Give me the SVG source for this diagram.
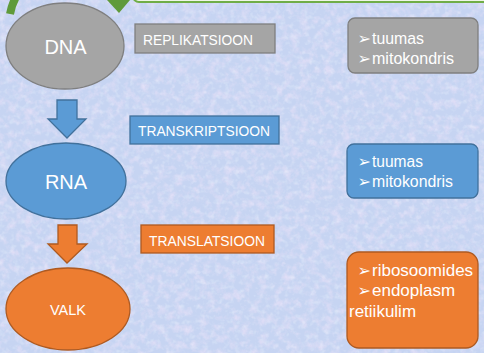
<svg xmlns="http://www.w3.org/2000/svg" width="484" height="353" viewBox="0 0 484 353">
<style>
.w{fill:#ffffff;font-family:"Liberation Sans",Arial,sans-serif}
.gray{fill:#a5a5a5;stroke:#7f7f7f;stroke-width:1.3}
.blue{fill:#5b9bd5;stroke:#41719c;stroke-width:1.3}
.orange{fill:#ed7d31;stroke:#ae5a21;stroke-width:1.3}
.lbl{font-size:14px}
.big{font-size:20px}
.lst{font-size:16px}
.lst2{font-size:17px}
.bul{font-family:"DejaVu Sans",sans-serif;font-size:16px}
</style>
<defs>
<filter id="noise" x="0" y="0" width="100%" height="100%">
<feTurbulence type="fractalNoise" baseFrequency="0.12" numOctaves="3" seed="7"/>
<feColorMatrix type="matrix" values="0 0 0 0 0.88  0 0 0 0 0.78  0 0 0 0 0.95  1.6 0 0 0 -0.7"/>
</filter>
<filter id="noise2" x="0" y="0" width="100%" height="100%">
<feTurbulence type="fractalNoise" baseFrequency="0.2" numOctaves="2" seed="3"/>
<feColorMatrix type="matrix" values="0 0 0 0 0.85  0 0 0 0 0.92  0 0 0 0 0.99  0 1.6 0 0 -0.8"/>
</filter>
</defs>
<rect x="0" y="0" width="484" height="353" fill="#c6d4f2"/>
<rect x="0" y="0" width="484" height="353" filter="url(#noise)" opacity="0.85"/>
<rect x="0" y="0" width="484" height="353" filter="url(#noise2)" opacity="0.6"/>

<g id="top-box">
<rect x="133" y="-20" width="360" height="22" rx="6" fill="#eef6e6" stroke="#70ad47" stroke-width="2"/>
</g>

<g id="connectors">
<path d="M 10 14 C 12 4, 15 -2, 18 -6" fill="none" stroke="#5f9a3a" stroke-width="8"/>
<polygon points="107,0 130,0 119,13" fill="#5f9a3a"/>
<polygon class="blue" points="57,100 77,100 77,119 86,119 67,138 48,119 57,119"/>
<polygon class="orange" points="58,225 77,225 77,244 87,244 67,263 48,244 58,244"/>
</g>

<g id="dna">
<ellipse class="gray" cx="65" cy="46" rx="59" ry="43"/>
<text class="w big" x="65.5" y="54" text-anchor="middle">DNA</text>
</g>
<g id="replikatsioon">
<rect class="gray" x="135" y="24" width="140" height="29"/>
<text class="w lbl" x="143" y="44.5" textLength="110" lengthAdjust="spacingAndGlyphs">REPLIKATSIOON</text>
</g>
<g id="dna-places">
<rect class="gray" x="348" y="18" width="130" height="55" rx="7"/>
<text class="w lst" x="357.5" y="43.5"><tspan class="bul">➢</tspan><tspan x="372" textLength="52" lengthAdjust="spacingAndGlyphs">tuumas</tspan></text>
<text class="w lst" x="357.5" y="63.5"><tspan class="bul">➢</tspan><tspan x="372" textLength="82" lengthAdjust="spacingAndGlyphs">mitokondris</tspan></text>
</g>

<g id="rna">
<ellipse class="blue" cx="66" cy="181" rx="60" ry="38"/>
<text class="w big" x="66" y="189" text-anchor="middle">RNA</text>
</g>
<g id="transkriptsioon">
<rect class="blue" x="130" y="116" width="149" height="28"/>
<text class="w lbl" x="138" y="136" textLength="132" lengthAdjust="spacingAndGlyphs">TRANSKRIPTSIOON</text>
</g>
<g id="rna-places">
<rect class="blue" x="347" y="144" width="131" height="54" rx="7"/>
<text class="w lst" x="357.5" y="166.5"><tspan class="bul">➢</tspan><tspan x="372" textLength="51" lengthAdjust="spacingAndGlyphs">tuumas</tspan></text>
<text class="w lst" x="357.5" y="186.5"><tspan class="bul">➢</tspan><tspan x="372" textLength="81" lengthAdjust="spacingAndGlyphs">mitokondris</tspan></text>
</g>

<g id="valk">
<ellipse class="orange" cx="68" cy="309" rx="62" ry="41"/>
<text class="w" style="font-size:14.5px" x="68" y="315" text-anchor="middle">VALK</text>
</g>
<g id="translatsioon">
<rect class="orange" x="141" y="225" width="133" height="28"/>
<text class="w lbl" x="149" y="246" textLength="116" lengthAdjust="spacingAndGlyphs">TRANSLATSIOON</text>
</g>
<g id="valk-places">
<rect class="orange" x="347" y="252" width="131" height="96" rx="12"/>
<text class="w lst2" x="357.5" y="276"><tspan class="bul">➢</tspan><tspan x="372">ribosoomides</tspan></text>
<text class="w lst2" x="357.5" y="296"><tspan class="bul">➢</tspan><tspan x="372">endoplasm</tspan></text>
<text class="w lst2" x="349" y="317">retiikulim</text>
</g>
</svg>
